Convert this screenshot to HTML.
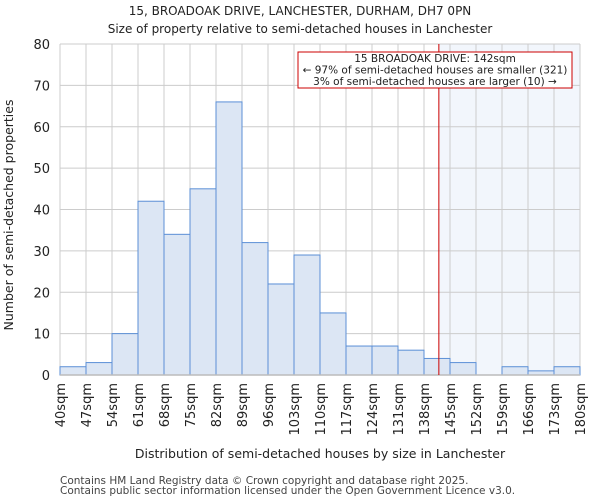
<!DOCTYPE html>
<html><head><meta charset="utf-8"><style>
body{margin:0;background:#fff;font-family:"DejaVu Sans","Liberation Sans",sans-serif;}
</style></head><body>
<svg id="chart" width="600" height="500" xmlns="http://www.w3.org/2000/svg" font-family="DejaVu Sans, Liberation Sans, sans-serif">
<text x="300" y="15" text-anchor="middle" font-size="12" fill="#222">15, BROADOAK DRIVE, LANCHESTER, DURHAM, DH7 0PN</text>
<text x="300" y="33" text-anchor="middle" font-size="12" fill="#222">Size of property relative to semi-detached houses in Lanchester</text>
<g id="plot"></g>
<text x="320" y="458" text-anchor="middle" font-size="12.5" fill="#222">Distribution of semi-detached houses by size in Lanchester</text>
<text transform="translate(13,215) rotate(-90)" text-anchor="middle" font-size="12.5" fill="#222">Number of semi-detached properties</text>
<text x="60" y="484" font-size="10.5" fill="#444">Contains HM Land Registry data © Crown copyright and database right 2025.</text>
<text x="60" y="494" font-size="10.5" fill="#444">Contains public sector information licensed under the Open Government Licence v3.0.</text>
</svg>
<script>
const binStarts=[40,47,54,61,68,75,82,89,96,103,110,117,124,131,138,145,152,159,166,173];
const counts=[2,3,10,42,34,45,66,32,22,29,15,7,7,6,4,3,0,2,1,2];
const xTickLabels=["40sqm","47sqm","54sqm","61sqm","68sqm","75sqm","82sqm","89sqm","96sqm","103sqm","110sqm","117sqm","124sqm","131sqm","138sqm","145sqm","152sqm","159sqm","166sqm","173sqm","180sqm"];
const yTicks=[0,10,20,30,40,50,60,70,80];
const propertySize=142;
const annotationLines=["15 BROADOAK DRIVE: 142sqm","← 97% of semi-detached houses are smaller (321)","3% of semi-detached houses are larger (10) →"];
const NS="http://www.w3.org/2000/svg";
const g=document.getElementById('plot');
const X0=60,X1=580,Y0=375,Y1=44,xmin=40,xmax=180,ymax=80;
const xs=v=>X0+(v-xmin)/(xmax-xmin)*(X1-X0);
const ys=v=>Y0-v/ymax*(Y0-Y1);
function el(t,a){const e=document.createElementNS(NS,t);for(const k in a)e.setAttribute(k,a[k]);g.appendChild(e);return e;}
let r=el('rect',{x:xs(propertySize),y:Y1,width:X1-xs(propertySize),height:Y0-Y1,fill:'#f2f6fc'});


yTicks.forEach(t=>{
 let l=el('line',{x1:X0,x2:X1,y1:ys(t),y2:ys(t),stroke:'#cccccc','stroke-width':1});
 
 
 let tx=el('text',{x:X0-10,y:ys(t)+5,'text-anchor':'end','font-size':13,fill:'#222'});
 tx.textContent=t;
 
 
});
xTickLabels.forEach((lab,i)=>{
 const v=xmin+i*7;
 let l=el('line',{x1:xs(v),x2:xs(v),y1:Y1,y2:Y0,stroke:'#cccccc','stroke-width':1});
 
 
 let tx=el('text',{transform:`translate(${xs(v)+5},383) rotate(-90)`,'text-anchor':'end','font-size':13,fill:'#222'});
 tx.textContent=lab;
 
 
});
binStarts.forEach((b,i)=>{
 if(counts[i]<=0)return;
 let bar=el('rect',{x:xs(b),y:ys(counts[i]),width:xs(b+7)-xs(b),height:Y0-ys(counts[i]),fill:'#dce6f4',stroke:'#5b8fd6','stroke-width':1});
 
 
});
let ax=el('line',{x1:X0,x2:X1,y1:Y0,y2:Y0,stroke:'#bbbbbb','stroke-width':1.5});


let ml=el('line',{x1:xs(propertySize),x2:xs(propertySize),y1:Y1,y2:Y0,stroke:'#cc0000','stroke-width':1});


let box=el('rect',{x:298,y:52,width:274,height:36,fill:'#fff',stroke:'#cc0000','stroke-width':1});


annotationLines.forEach((s,i)=>{
 let t=el('text',{x:435,y:62+i*11.5,'text-anchor':'middle','font-size':10.5,fill:'#222'});
 t.textContent=s;
 
 
});
</script>
</body></html>
